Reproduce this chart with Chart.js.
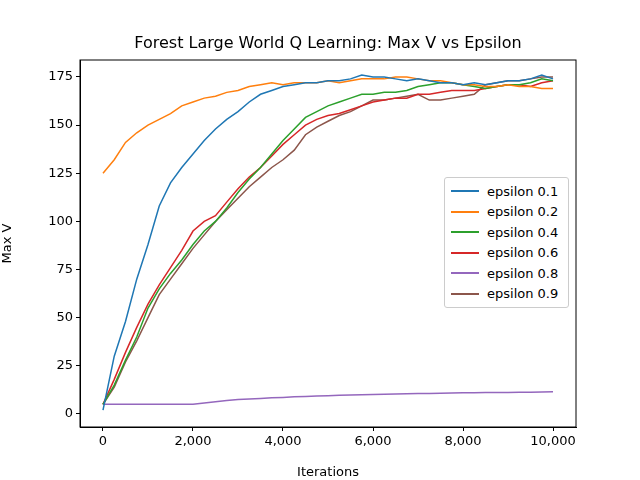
<!DOCTYPE html>
<html><head><meta charset="utf-8">
<script src="https://cdn.jsdelivr.net/npm/chart.js@4/dist/chart.umd.min.js"></script>
<style>
body{margin:0;background:#fff;font-family:"DejaVu Sans",sans-serif;}
#wrap{position:relative;width:640px;height:480px;}
#title{position:absolute;top:33px;left:80px;width:496px;text-align:center;font-size:16px;}
#legend{position:absolute;left:444px;top:177px;width:123px;border:1px solid #ccc;border-radius:3px;background:#fff;padding:3px 0;font-size:13px;}
#legend div{display:flex;align-items:center;height:20.5px;}
#legend span.l{display:inline-block;width:28px;height:2px;margin:0 8px 0 6px;}
</style></head><body>
<div id="wrap"><canvas id="c" width="640" height="480"></canvas>
<div id="title">Forest Large World Q Learning: Max V vs Epsilon</div>
<div id="legend"></div></div>
<script>
const iterations = Array.from({length:41},(_, i)=>i*250);
const labels = ["epsilon 0.1","epsilon 0.2","epsilon 0.4","epsilon 0.6","epsilon 0.8","epsilon 0.9"];
const colors = ["#1f77b4","#ff7f0e","#2ca02c","#d62728","#9467bd","#8c564b"];
const eps01 = [2,30,48,70,88,108,120,128,135,142,148,153,157,162,166,168,170,171,172,172,173,173,174,176,175,175,174,173,174,173,172,172,171,172,171,172,173,173,174,176,174];
const eps02 = [125,132,141,146,150,153,156,160,162,164,165,167,168,170,171,172,171,172,172,172,173,172,173,174,174,174,175,175,174,173,173,172,171,171,170,170,171,170,170,169,169];
const eps04 = [5,15,28,40,55,65,73,80,88,95,100,107,115,122,128,135,142,148,154,157,160,162,164,166,166,167,167,168,170,171,172,172,171,170,169,170,171,171,172,174,173];
const eps06 = [5,18,32,45,57,67,76,85,95,100,103,110,117,123,128,134,140,145,150,153,155,156,158,160,162,163,164,164,166,166,167,168,168,168,169,170,171,171,170,172,173];
const eps08 = [5,5,5,5,5,5,5,5,5,5.7,6.4,7,7.5,7.8,8.1,8.4,8.6,8.9,9.1,9.3,9.5,9.7,9.9,10,10.1,10.3,10.4,10.5,10.6,10.7,10.8,10.9,11,11,11.1,11.2,11.2,11.3,11.3,11.4,11.5];
const eps09 = [5,14,27,38,50,62,70,78,86,93,100,106,112,118,123,128,132,137,145,149,152,155,157,160,163,163,164,165,166,163,163,164,165,166,171,172,173,173,174,175,175];
const series = [eps01,eps02,eps04,eps06,eps08,eps09];
const datasets = series.map((s,k)=>({label:labels[k],data:s.map((v,i)=>({x:iterations[i],y:v})),borderColor:colors[k],backgroundColor:colors[k],borderWidth:1.5,pointRadius:0,tension:0}));
const lg=document.getElementById('legend');
labels.forEach((l,k)=>{const d=document.createElement('div');d.innerHTML='<span class="l" style="background:'+colors[k]+'"></span>'+l;lg.appendChild(d);});
const frame={id:'frame',afterDraw(c){const a=c.chartArea,x=c.ctx;x.save();x.strokeStyle='#000';x.lineWidth=1;x.strokeRect(a.left,a.top,a.right-a.left,a.bottom-a.top);x.restore();}};
const tk={color:'#000',font:{family:'DejaVu Sans',size:13}};
new Chart(document.getElementById('c'),{type:'line',data:{datasets},plugins:[frame],
options:{responsive:false,animation:false,devicePixelRatio:1,layout:{padding:{top:60,right:64,left:0,bottom:0}},
plugins:{legend:{display:false},tooltip:{enabled:false}},
scales:{
x:{type:'linear',min:-511,max:10511,afterBuildTicks(s){s.ticks=[0,2000,4000,6000,8000,10000].map(v=>({value:v}));},
 afterFit(s){s.height=53;},
 grid:{drawOnChartArea:false,tickLength:4,color:'#000'},border:{color:'#000'},ticks:{...tk,maxRotation:0},
 title:{display:true,text:'Iterations',color:'#000',font:{family:'DejaVu Sans',size:13},padding:0}},
y:{min:-6.75,max:183.8,afterBuildTicks(s){s.ticks=[0,25,50,75,100,125,150,175].map(v=>({value:v}));},
 afterFit(s){s.width=80;},
 grid:{drawOnChartArea:false,tickLength:4,color:'#000'},border:{color:'#000'},ticks:tk,
 title:{display:true,text:'Max V',color:'#000',font:{family:'DejaVu Sans',size:13},padding:0}}
}}});
</script></body></html>
